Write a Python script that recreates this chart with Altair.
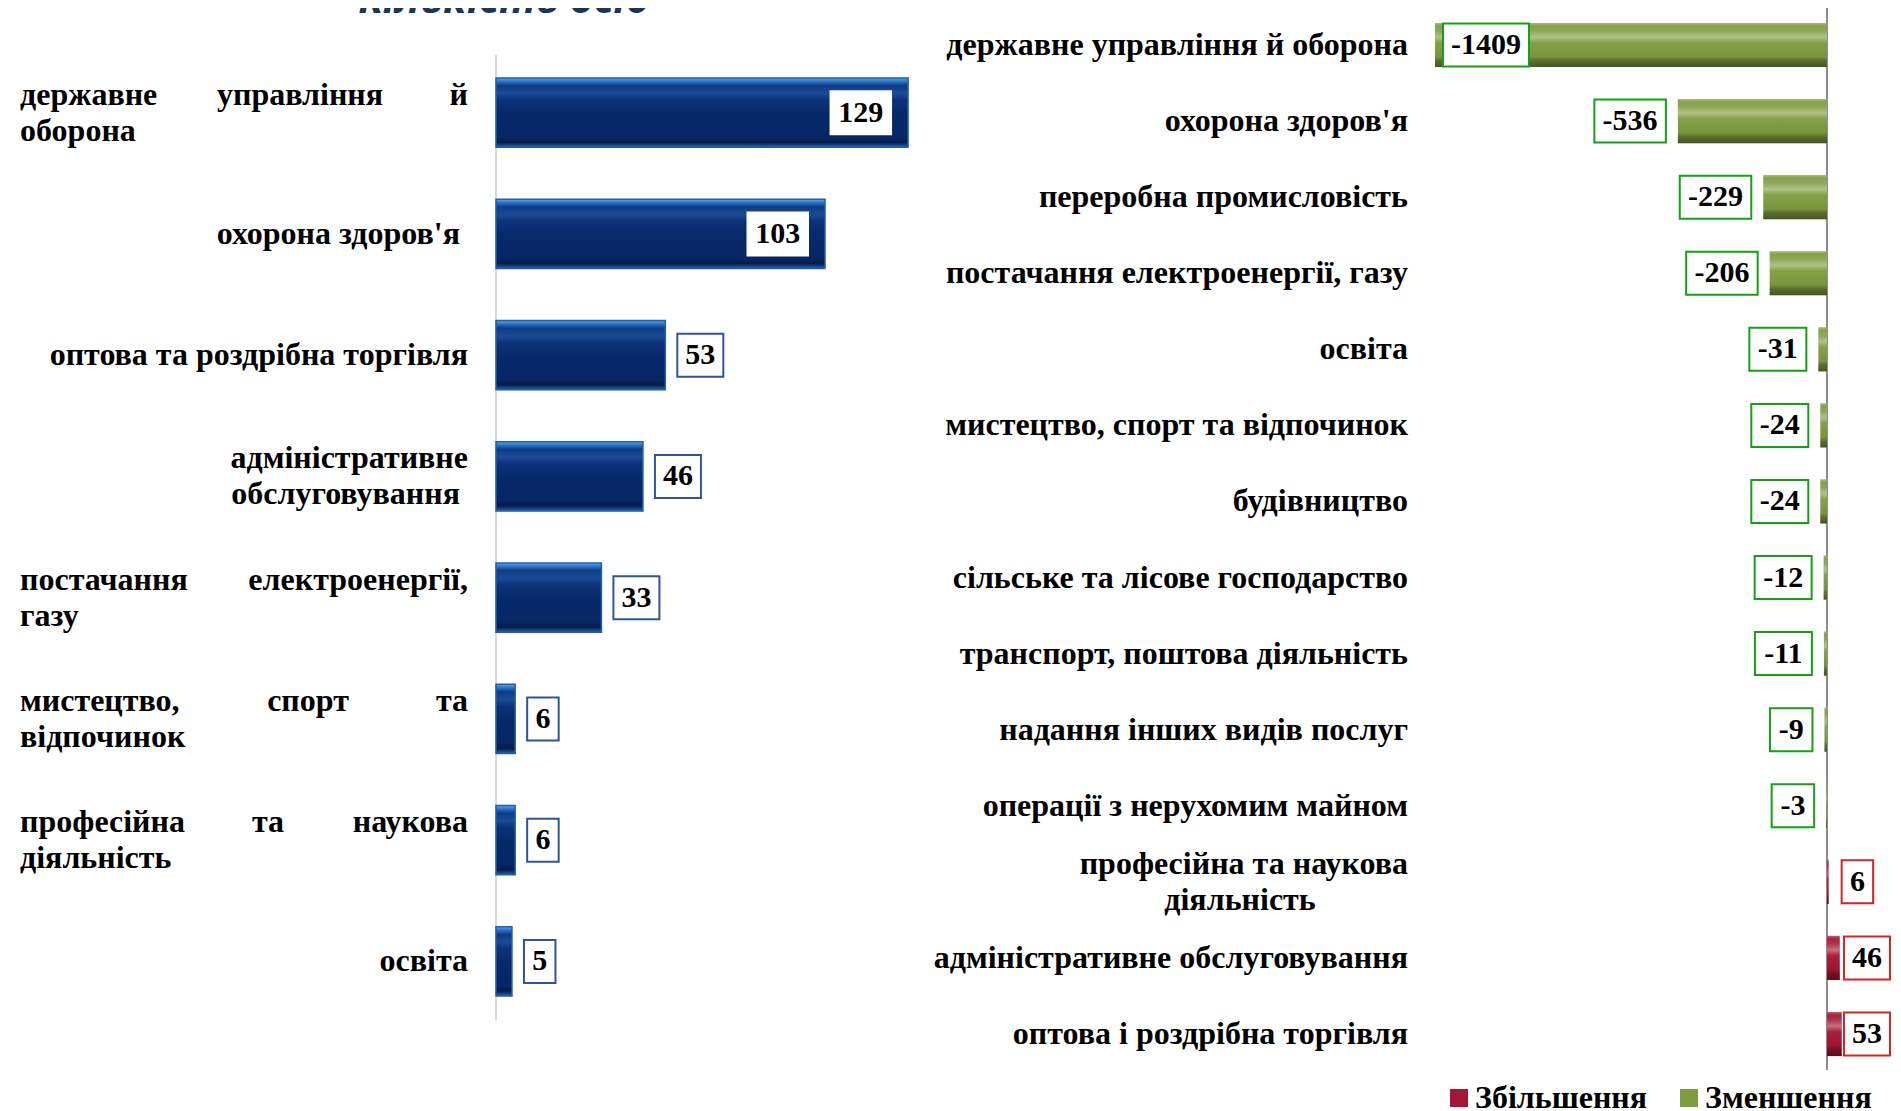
import altair as alt
import pandas as pd

# ---------------- data ----------------
title_text = "Кількість осіб"

left_categories = [
    "державне управління й оборона",
    "охорона здоров'я",
    "оптова та роздрібна торгівля",
    "адміністративне обслуговування",
    "постачання електроенергії, газу",
    "мистецтво, спорт та відпочинок",
    "професійна та наукова діяльність",
    "освіта",
]
left_values = [129, 103, 53, 46, 33, 6, 6, 5]
# how each left label wraps (a trailing space keeps a small gap at the right), and justification
left_label_lines = [
    ["державне управління й", "оборона"],
    ["охорона здоров'я "],
    ["оптова та роздрібна торгівля"],
    ["адміністративне", "обслуговування "],
    ["постачання електроенергії,", "газу"],
    ["мистецтво, спорт та", "відпочинок"],
    ["професійна та наукова", "діяльність"],
    ["освіта"],
]
left_label_justify = [True, False, False, False, True, True, True, False]

right_categories = [
    "державне управління й оборона",
    "охорона здоров'я",
    "переробна промисловість",
    "постачання електроенергії, газу",
    "освіта",
    "мистецтво, спорт та відпочинок",
    "будівництво",
    "сільське та лісове господарство",
    "транспорт, поштова діяльність",
    "надання інших видів послуг",
    "операції з нерухомим майном",
    "професійна та наукова діяльність",
    "адміністративне обслуговування",
    "оптова і роздрібна торгівля",
]
right_values = [-1409, -536, -229, -206, -31, -24, -24, -12, -11, -9, -3, 6, 46, 53]
right_label_lines = [[c] for c in right_categories]
right_label_lines[11] = ["професійна та наукова", "діяльність"]

legend_labels = ["Збільшення", "Зменшення"]
legend_colors = ["#a51636", "#7f9c40"]

# ---------------- styling constants ----------------
FONT = "Liberation Serif"
LABEL_SIZE = 32
VALUE_SIZE = 30
LINE_H = 36
CW = 16.0           # estimated average glyph advance for label text
BOX_H = 43
SYM = 10.0          # sqrt(size)/2 for size=400
TRAIL = 8           # gap left by a trailing space
CANVAS_W, CANVAS_H = 1885, 1103

LX_DOMAIN, LX_RANGE = [0, 140], [488, 935.2]
RX_DOMAIN, RX_RANGE = [-1500, 100], [1401.7, 1846.8]
LX = alt.Scale(domain=LX_DOMAIN, range=LX_RANGE, nice=False, zero=True)
LY = alt.Scale(domain=left_categories, range=[44, 1014], paddingInner=0.43, paddingOuter=0.215)
RX = alt.Scale(domain=RX_DOMAIN, range=RX_RANGE, nice=False, zero=True)
RY = alt.Scale(domain=right_categories, range=[-1.04, 1064.04], paddingInner=0.42, paddingOuter=0.21)

LEFT_L, LEFT_R = 12, 460
RIGHT_R = 1400


def est_w(s):
    return len(s) * CW


def px(v, dom, rng):
    return rng[0] + (v - dom[0]) / (dom[1] - dom[0]) * (rng[1] - rng[0])


def left_label_rows():
    rows = []
    W = LEFT_R - LEFT_L
    for cat, lines, just in zip(left_categories, left_label_lines, left_label_justify):
        n = len(lines)
        for li, raw in enumerate(lines):
            line = raw.rstrip()
            rx = LEFT_R - (TRAIL if raw != line else 0)
            dy = (li - (n - 1) / 2) * LINE_H
            if just and li < n - 1:
                words = line.split(" ")
                ws = [est_w(w) for w in words]
                gap = (W - sum(ws)) / (len(words) - 1)
                pos = LEFT_L
                for k, (wd, ww) in enumerate(zip(words, ws)):
                    if k == 0:
                        rows.append(dict(cat=cat, text=wd, lx=LEFT_L, al="left", dy=dy))
                    elif k == len(words) - 1:
                        rows.append(dict(cat=cat, text=wd, lx=LEFT_R, al="right", dy=dy))
                    else:
                        rows.append(dict(cat=cat, text=wd, lx=pos + ww / 2, al="center", dy=dy))
                    pos += ww + gap
            elif just:
                rows.append(dict(cat=cat, text=line, lx=LEFT_L, al="left", dy=dy))
            else:
                rows.append(dict(cat=cat, text=line, lx=rx, al="right", dy=dy))
    return pd.DataFrame(rows)


def right_label_rows():
    rows = []
    for cat, lines in zip(right_categories, right_label_lines):
        n = len(lines)
        for li, line in enumerate(lines):
            dy = (li - (n - 1) / 2) * LINE_H
            if li == 0:
                rows.append(dict(cat=cat, text=line, lx=RIGHT_R, al="right", dy=dy))
            else:
                rows.append(dict(cat=cat, text=line, lx=RIGHT_R - est_w(lines[0]) / 2, al="center", dy=dy))
    return pd.DataFrame(rows)


def value_rows(cats, vals, panel):
    mx = max(abs(v) for v in vals)
    rows = []
    for c, v in zip(cats, vals):
        nd = len(str(abs(v)))
        w = 14.5 * nd + 17 + (11 if v < 0 else 0)
        s = 1 if v >= 0 else -1
        inside = abs(v) >= 0.6 * mx
        if panel == "left":
            bx = -s * (17 + w / 2) if inside else s * (12 + w / 2)
            bc = "#ffffff" if inside else "#2f5597"
        else:
            if inside:
                bx = -s * (8 + w / 2)
            elif v >= 0:
                # keep the box inside the canvas at the right edge
                end = px(v, RX_DOMAIN, RX_RANGE)
                gap = min(13, CANVAS_W - 3 - end - w)
                bx = gap + w / 2
            else:
                bx = -(12 + w / 2)
            bc = "#17a017" if v < 0 else "#d42424"
        x0, x1 = (bx - w / 2) / SYM, (bx + w / 2) / SYM
        hh = BOX_H / 2 / SYM
        path = f"M{x0:.3f},{-hh:.3f}H{x1:.3f}V{hh:.3f}H{x0:.3f}Z"
        rows.append(dict(cat=c, v=v, label=str(v), bx=bx, bc=bc, path=path))
    return pd.DataFrame(rows)


def grad(stops):
    return alt.LinearGradient(
        gradient="linear", x1=0, x2=0, y1=0, y2=1,
        stops=[alt.GradientStop(offset=o, color=c) for o, c in stops],
    )


left_grad = grad([
    (0.0, "#5aa5ec"), (0.05, "#2b73c4"), (0.11, "#0e3b84"), (0.22, "#1b4b95"),
    (0.32, "#0c3279"), (0.5, "#072a6c"), (0.85, "#072664"), (0.93, "#051c4b"),
    (1.0, "#2363ad"),
])
overlay_grad = grad([
    (0.0, "rgba(255,255,255,0.30)"), (0.07, "rgba(255,255,255,0.05)"),
    (0.18, "rgba(255,255,255,0.12)"), (0.32, "rgba(255,255,255,0.38)"),
    (0.45, "rgba(255,255,255,0.04)"), (0.76, "rgba(0,0,0,0.04)"),
    (0.86, "rgba(0,0,0,0.30)"), (1.0, "rgba(0,0,0,0.45)"),
])

ldf = pd.DataFrame({"cat": left_categories, "v": left_values})
rdf = pd.DataFrame({
    "cat": right_categories, "v": right_values,
    "kind": [legend_labels[0] if v > 0 else legend_labels[1] for v in right_values],
})
lval = value_rows(left_categories, left_values, "left")
rval = value_rows(right_categories, right_values, "right")
llab = left_label_rows()
rlab = right_label_rows()
zero = pd.DataFrame({"z": [0]})

# ---------------- left panel ----------------
lx = alt.X("v:Q", scale=LX, axis=None)
ly = alt.Y("cat:N", scale=LY, axis=None, sort=None)

left_rule = alt.Chart(zero).mark_rule(color="#d9d9d9", strokeWidth=2).encode(
    x=alt.X("z:Q", scale=LX, axis=None), y=alt.value(47), y2=alt.value(1012))
left_bars = alt.Chart(ldf).mark_bar(fill=left_grad, stroke="#1f5fae", strokeWidth=1.5).encode(x=lx, y=ly)
left_boxes = alt.Chart(lval).mark_point(filled=True, fill="white", opacity=1, size=400, strokeWidth=2).encode(
    x=lx, y=ly, shape=alt.Shape("path:N", scale=None), stroke=alt.Stroke("bc:N", scale=None))
left_vtext = alt.Chart(lval).mark_text(font=FONT, fontSize=VALUE_SIZE, fontWeight="bold", color="black",
                                       align="center", baseline="middle", dx=alt.ExprRef("datum.bx")).encode(
    x=lx, y=ly, text="label:N")
left_labels = alt.Chart(llab).mark_text(
    font=FONT, fontSize=LABEL_SIZE, fontWeight="bold", color="black", baseline="middle",
    align=alt.ExprRef("datum.al"), dy=alt.ExprRef("datum.dy"), x=alt.ExprRef("datum.lx"),
).encode(y=ly, text="text:N")

left = alt.layer(left_rule, left_bars, left_boxes, left_vtext, left_labels)

# ---------------- right panel ----------------
rx = alt.X("v:Q", scale=RX, axis=None)
ry = alt.Y("cat:N", scale=RY, axis=None, sort=None)

right_rule = alt.Chart(zero).mark_rule(color="#8c8c8c", strokeWidth=2).encode(
    x=alt.X("z:Q", scale=RX, axis=None), y=alt.value(-1), y2=alt.value(1062))
right_bars = alt.Chart(rdf).mark_bar().encode(
    x=rx, y=ry,
    color=alt.Color("kind:N", scale=alt.Scale(domain=legend_labels, range=legend_colors),
                    legend=alt.Legend(orient="none", legendX=1435, legendY=1074, direction="horizontal",
                                      title=None, symbolType="square", symbolSize=324, symbolStrokeWidth=0,
                                      symbolOpacity=1, labelFont=FONT, labelFontSize=32,
                                      labelFontWeight="bold", labelColor="black", labelOffset=0,
                                      columnPadding=25, labelLimit=400)))
right_overlay = alt.Chart(rdf).mark_bar(fill=overlay_grad).encode(x=rx, y=ry)
right_boxes = alt.Chart(rval).mark_point(filled=True, fill="white", opacity=1, size=400, strokeWidth=2).encode(
    x=rx, y=ry, shape=alt.Shape("path:N", scale=None), stroke=alt.Stroke("bc:N", scale=None))
right_vtext = alt.Chart(rval).mark_text(font=FONT, fontSize=VALUE_SIZE, fontWeight="bold", color="black",
                                        align="center", baseline="middle", dx=alt.ExprRef("datum.bx")).encode(
    x=rx, y=ry, text="label:N")
right_labels = alt.Chart(rlab).mark_text(
    font=FONT, fontSize=LABEL_SIZE, fontWeight="bold", color="black", baseline="middle",
    align=alt.ExprRef("datum.al"), dy=alt.ExprRef("datum.dy"), x=alt.ExprRef("datum.lx"),
).encode(y=ry, text="text:N")

right = alt.layer(right_rule, right_bars, right_overlay, right_boxes, right_vtext, right_labels)

# ---------------- title (cut off at the top, as in the source) ----------------
title = alt.Chart(pd.DataFrame({"t": [title_text]})).mark_text(
    font="Open Sans", fontSize=41, fontStyle="italic", fontWeight="bold", color="#1f3554",
    align="center", baseline="alphabetic",
).encode(text="t:N", x=alt.value(496), y=alt.value(4.5))

chart = alt.layer(title, left, right).resolve_scale(
    x="independent", y="independent"
).properties(
    width=CANVAS_W, height=CANVAS_H, padding=0,
    autosize=alt.AutoSizeParams(type="none"),
).configure_view(stroke=None).configure_legend(
    labelFont=FONT, labelFontWeight="bold", labelFontSize=32
)

chart.save("out.html", embed_options={"renderer": "svg", "actions": False})
